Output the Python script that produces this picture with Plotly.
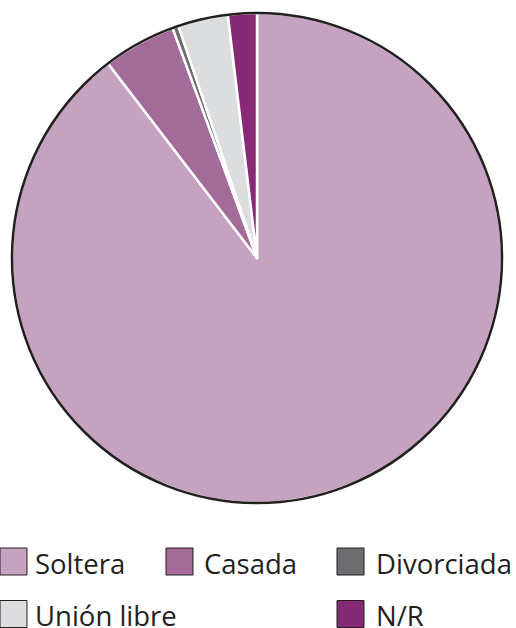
import plotly.graph_objects as go

W, H = 516, 628

# data
labels = ["Soltera", "Casada", "Divorciada", "Unión libre", "N/R"]
values = [89.6, 4.8, 0.4, 3.3, 1.9]
colors = ["#C5A3C0", "#A26B99", "#6D6E71", "#DCDDDE", "#862A75"]

# legend grid (row, col) for each label
legend_cells = [(0, 0), (0, 1), (0, 2), (1, 0), (1, 2)]
col_x = [0, 166, 337]
text_x = [33, 202, 373.5]
row_box_y = [561.5, 614]
row_text_y = [563, 615.5]
box_w, box_h = 27, 27

ink = "#231F20"

def px(x):
    return x / W

def py(y):
    return 1 - y / H

pie_dom_x = [px(12), px(502)]
pie_dom_y = [py(503), py(13)]

fig = go.Figure()
fig.add_trace(go.Pie(
    labels=labels,
    values=values,
    sort=False,
    direction="clockwise",
    rotation=0,
    marker=dict(colors=colors, line=dict(color="white", width=2.5)),
    textinfo="none",
    hoverinfo="label+percent",
    showlegend=False,
    domain=dict(x=pie_dom_x, y=pie_dom_y),
))
# dark outline ring around the pie
fig.add_trace(go.Pie(
    labels=["outline"],
    values=[1],
    marker=dict(colors=["rgba(0,0,0,0)"], line=dict(color=ink, width=2.5)),
    textinfo="none",
    hoverinfo="skip",
    showlegend=False,
    domain=dict(x=pie_dom_x, y=pie_dom_y),
))

shapes = []
annotations = []
for lab, col, (r, c) in zip(labels, colors, legend_cells):
    x0 = col_x[c]
    yc = row_box_y[r]
    shapes.append(dict(
        type="rect", xref="paper", yref="paper",
        x0=px(x0), x1=px(x0 + box_w),
        y0=py(yc + box_h / 2), y1=py(yc - box_h / 2),
        fillcolor=col, line=dict(color=ink, width=1),
    ))
    annotations.append(dict(
        text=lab, xref="paper", yref="paper",
        x=px(text_x[c]), y=py(row_text_y[r]),
        xanchor="left", yanchor="middle", showarrow=False,
        font=dict(family="Open Sans", size=27.5, color=ink),
    ))

fig.update_layout(
    width=W, height=H,
    margin=dict(l=0, r=0, t=0, b=0),
    paper_bgcolor="white",
    plot_bgcolor="white",
    shapes=shapes,
    annotations=annotations,
)

# drop the default 8px page margin so the figure sits at the window corner
fig.write_html(
    "out.html",
    config={"displayModeBar": False},
    post_script="document.body.style.margin='0';",
)
